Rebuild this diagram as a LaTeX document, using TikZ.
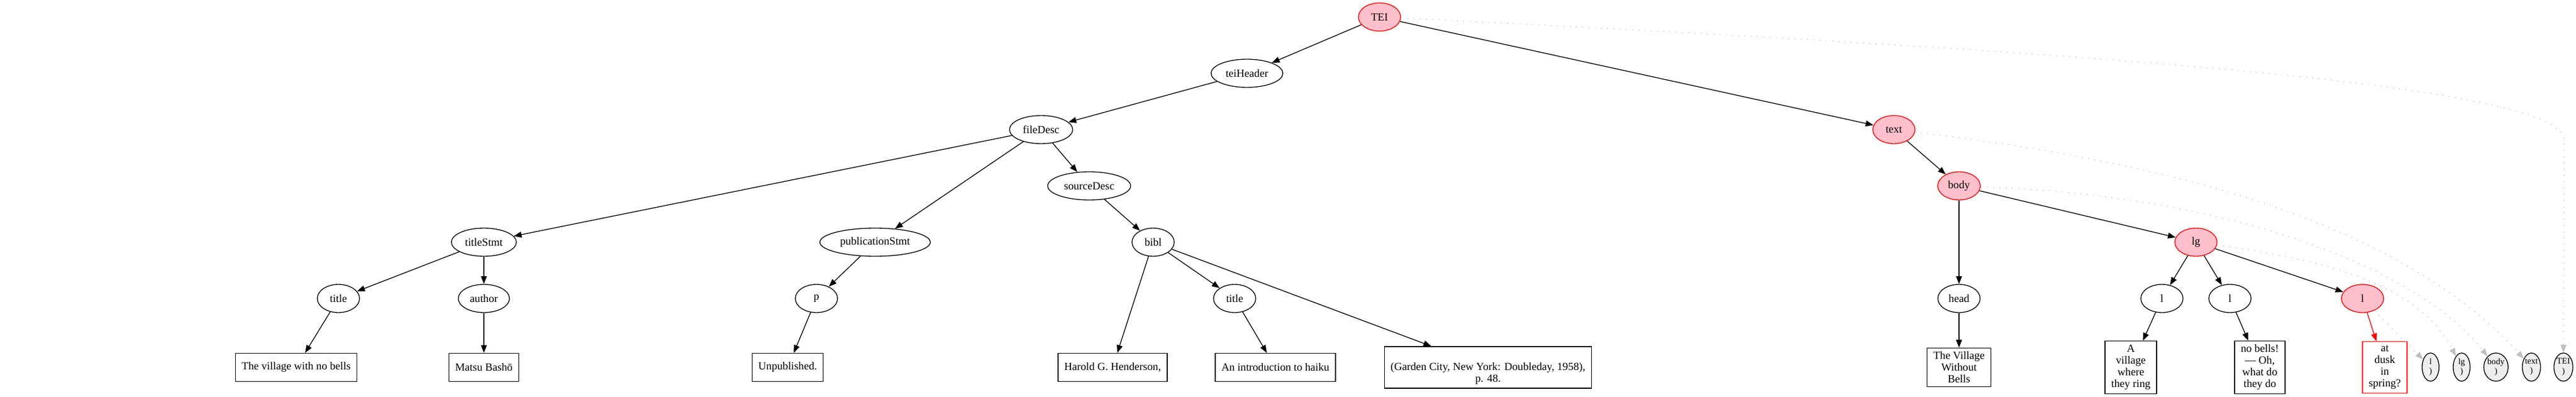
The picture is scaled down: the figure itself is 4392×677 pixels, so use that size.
\documentclass[tikz,border=0pt]{standalone}
\usepackage{fontspec}
\setmainfont{Liberation Serif}
\usetikzlibrary{shapes.geometric,arrows.meta}
\definecolor{hit}{HTML}{FFC0CB}
\definecolor{ghost}{HTML}{C0C0C0}
\definecolor{pale}{HTML}{EEEEEE}

\begin{document}
\begin{tikzpicture}[x=0.75pt,y=-0.75pt,line width=1pt,font=\fontsize{14}{15}\selectfont,
  tag/.style={ellipse,draw,minimum width=54pt,minimum height=36pt,inner xsep=5.25pt,inner ysep=0pt},
  hot/.style={tag,fill=hit,draw=red},
  leaf/.style={rectangle,draw,align=center,minimum height=36pt,inner xsep=7.9pt,inner ysep=4.9pt},
  endtag/.style={ellipse,draw,fill=pale,align=center,minimum width=21.6pt,minimum height=36pt,inner sep=0pt,font=\fontsize{11}{12.5}\selectfont},
  link/.style={-{Triangle[length=10pt,width=7.5pt]}},
  ghost link/.style={draw=ghost,dash pattern=on 1pt off 7pt,-{Triangle[length=10pt,width=7.5pt,fill=ghost]}}]
\useasboundingbox (0,0) rectangle (4392,677);

\node[hot] (tei) at (2352,29) {TEI};
\node[tag] (header) at (2126,125) {teiHeader};
\node[tag] (filedesc) at (1775,221) {fileDesc};
\node[hot] (text) at (3229,221) {text};
\node[tag] (sourcedesc) at (1857,317) {sourceDesc};
\node[hot] (body) at (3340,317) {body};
\node[tag] (titlestmt) at (825,413) {titleStmt};
\node[tag] (pubstmt) at (1492,413) {publicationStmt};
\node[tag] (bibl) at (1966,413) {bibl};
\node[hot] (lg) at (3744,413) {lg};
\node[tag] (title1) at (577,509) {title};
\node[tag] (author) at (825,509) {author};
\node[tag] (p) at (1392,509) {p};
\node[tag] (title2) at (2105,509) {title};
\node[tag] (head) at (3340,509) {head};
\node[tag] (l1) at (3686,509) {l};
\node[tag] (l2) at (3802,509) {l};
\node[hot] (l3) at (4028,509) {l};

\node[leaf] (t1) at (505,626.5) {The village with no bells};
\node[leaf] (t2) at (825,626.5) {Matsu Bashō};
\node[leaf] (t3) at (1343,626.5) {Unpublished.};
\node[leaf] (t4) at (1897,626.5) {Harold G. Henderson,};
\node[leaf] (t5) at (2174.5,626.5) {An introduction to haiku};
\node[leaf] (t6) at (2537,626.5) {\strut\\(Garden City, New York: Doubleday, 1958),\\p. 48.};
\node[leaf] (t7) at (3340,626.5) {The Village\\Without\\Bells};
\node[leaf] (t8) at (3633,626.5) {A\\village\\where\\they ring};
\node[leaf] (t9) at (3853,626.5) {no bells!\\— Oh,\\what do\\they do};
\node[leaf,draw=red] (t10) at (4066,626.5) {at\\dusk\\in\\spring?};

\node[endtag] (el) at (4144,626) {l\\)};
\node[endtag] (elg) at (4197,626) {lg\\)};
\node[endtag] (ebody) at (4255.5,626) {body\\)};
\node[endtag] (etext) at (4316,626) {text\\)};
\node[endtag] (etei) at (4370.5,626) {TEI\\)};

\draw[link] (tei) -- (header);
\draw[link] (header) -- (filedesc);
\draw[link] (filedesc) -- (titlestmt);
\draw[link] (filedesc) -- (pubstmt);
\draw[link] (filedesc) -- (sourcedesc);
\draw[link] (titlestmt) -- (title1);
\draw[link] (titlestmt) -- (author);
\draw[link] (title1) -- (t1);
\draw[link] (author) -- (t2);
\draw[link] (pubstmt) -- (p);
\draw[link] (p) -- (t3);
\draw[link] (sourcedesc) -- (bibl);
\draw[link] (bibl) -- (t4);
\draw[link] (bibl) -- (title2);
\draw[link] (bibl) -- (t6);
\draw[link] (title2) -- (t5);
\draw[link] (tei) -- (text);
\draw[link] (text) -- (body);
\draw[link] (body) -- (head);
\draw[link] (body) -- (lg);
\draw[link] (head) -- (t7);
\draw[link] (lg) -- (l1);
\draw[link] (lg) -- (l2);
\draw[link] (lg) -- (l3);
\draw[link] (l1) -- (t8);
\draw[link] (l2) -- (t9);
\draw[link,red] (l3) -- (t10);

\draw[ghost link] (tei) .. controls (3700,95) and (4372,150) .. (4372,240) -- (etei);
\draw[ghost link] (text) .. controls (3765,284) and (4110,400) .. (etext);
\draw[ghost link] (body) .. controls (3830,335) and (4131,467) .. (ebody);
\draw[ghost link] (lg) .. controls (3980,445) and (4125,489) .. (elg);
\draw[ghost link] (l3) -- (el);
\end{tikzpicture}
\end{document}
